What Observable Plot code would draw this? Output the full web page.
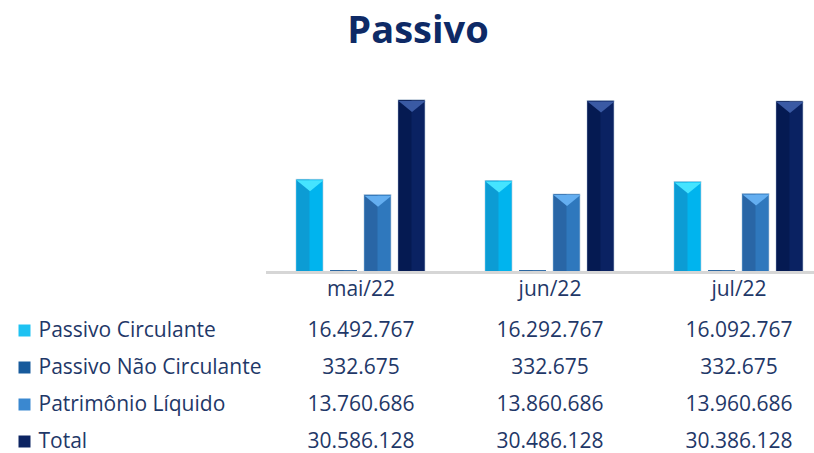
<!DOCTYPE html>
<html>
<head>
<meta charset="utf-8">
<script src="https://cdn.jsdelivr.net/npm/d3@7"></script>
<script src="https://cdn.jsdelivr.net/npm/@observablehq/plot@0.6"></script>
<style>
  html, body { margin: 0; padding: 0; background: #fff; overflow: hidden; }
  #wrap { width: 814px; height: 453px; position: relative; }
  #title { height: 70px; box-sizing: border-box; padding-top: 9px; padding-left: 22px; text-align: center;
           font-family: "Open Sans", sans-serif; font-weight: 700; font-size: 38px; line-height: 38px; color: #0e2a66; }
  svg { display: block; }
</style>
</head>
<body>
<div id="wrap"><div id="title">Passivo</div></div>
<script>
const months = ["mai/22", "jun/22", "jul/22"];
const series = ["Passivo Circulante", "Passivo Não Circulante", "Patrimônio Líquido", "Total"];
const passivoCirculante = [16492767, 16292767, 16092767];
const passivoNaoCirculante = [332675, 332675, 332675];
const patrimonioLiquido = [13760686, 13860686, 13960686];
const total = [30586128, 30486128, 30386128];

// styles
const mainColors = ["#00b4ee", "#1a5c9e", "#2f78bd", "#0a2262"];
const shadeColors = ["#0c9cd4", "#144d86", "#2966a6", "#051a52"];
const topColors = ["#45e4ff", "#3b7cc0", "#64aef0", "#3a5aa4"];
const iconColors = ["#1ec2f2", "#175a9c", "#3a88d0", "#0c2462"];

const valuesBySeries = [passivoCirculante, passivoNaoCirculante, patrimonioLiquido, total];
const rows = months.flatMap((m, i) => series.map((s, j) => ({month: m, serie: s, value: valuesBySeries[j][i]})));
const idx = s => series.indexOf(s);

const ptBR = d3.formatLocale({decimal: ",", thousands: ".", grouping: [3], currency: ["R$", ""]});
const fmt = ptBR.format(",d");

const textColor = "#1f3868";

const triDown = {
  draw(ctx) {
    ctx.moveTo(-13.5, 0);
    ctx.lineTo(13.5, 0);
    ctx.lineTo(0, 11);
    ctx.closePath();
  }
};
const squareSym = {
  draw(ctx) {
    ctx.moveTo(-6, -6);
    ctx.lineTo(6, -6);
    ctx.lineTo(6, 6);
    ctx.lineTo(-6, 6);
    ctx.closePath();
  }
};

const barChart = Plot.plot({
  width: 814,
  height: 235,
  marginLeft: 265,
  marginRight: 0,
  marginTop: 5,
  marginBottom: 33,
  style: {fontFamily: "Open Sans, sans-serif", fontSize: "21px", color: textColor, background: "transparent"},
  fx: {domain: months, range: [265.5, 832.5], paddingInner: 0, paddingOuter: 0, axis: "bottom", tickSize: 0, tickPadding: 9, label: null},
  x: {domain: series, paddingInner: 0.206, paddingOuter: 0.882, axis: null},
  y: {domain: [0, 35000000], axis: null},
  color: {domain: series, range: mainColors},
  marks: [
    Plot.barY(rows, {fx: "month", x: "serie", y: "value", fill: "serie", stroke: d => d.value > 2000000 ? "#b8cadb" : "none", strokeWidth: 0.6}),
    Plot.barY(rows, {fx: "month", x: "serie", y: "value", fill: d => shadeColors[idx(d.serie)], insetRight: 13.5, insetLeft: 0.6, insetTop: 0.6}),
    Plot.dot(rows, {fx: "month", x: "serie", y: "value", filter: d => d.value > 2000000, fill: d => topColors[idx(d.serie)], symbol: triDown, r: 5, dy: 0.6}),
    Plot.ruleY([0], {stroke: "#d6d6d6", strokeWidth: 3.2})
  ]
});

const tableChart = Plot.plot({
  width: 814,
  height: 148,
  marginLeft: 0,
  marginRight: 0,
  marginTop: 0,
  marginBottom: 0,
  style: {fontFamily: "Open Sans, sans-serif", fontSize: "21px", color: textColor, background: "transparent"},
  x: {type: "band", domain: months, range: [265.5, 832.5], padding: 0, axis: null},
  y: {type: "point", domain: series, range: [24, 136], padding: 0, axis: null},
  marks: [
    Plot.dot(series, {y: d => d, frameAnchor: "left", dx: 24, symbol: squareSym, r: 5, fill: d => iconColors[idx(d)]}),
    Plot.text(series, {y: d => d, text: d => d, frameAnchor: "left", dx: 38, textAnchor: "start", fill: textColor}),
    Plot.text(rows, {x: "month", y: "serie", text: d => fmt(d.value), fill: textColor})
  ]
});

const wrap = document.getElementById("wrap");
wrap.appendChild(barChart);
wrap.appendChild(tableChart);
</script>
</body>
</html>
